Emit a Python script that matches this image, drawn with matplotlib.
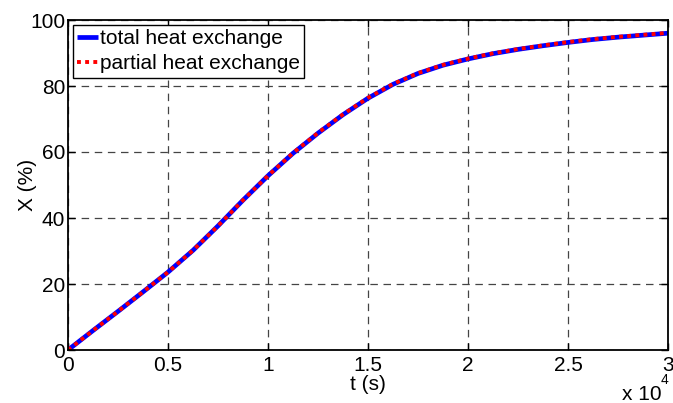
import matplotlib
matplotlib.use("Agg")
import matplotlib.pyplot as plt

t_s = [0, 1250, 2500, 3750, 5000, 6250, 7500, 8750, 10000, 11250, 12500, 13750,
       15000, 16250, 17500, 18750, 20000, 21250, 22500, 23750, 25000, 26250,
       27500, 28750, 30000]
x_total = [0, 5.9, 11.7, 17.6, 23.6, 30.2, 37.6, 45.4, 52.8, 59.6, 65.7, 71.3,
           76.3, 80.5, 83.8, 86.3, 88.2, 89.8, 91.1, 92.2, 93.2, 94.1, 94.8,
           95.4, 96.0]
x_partial = [0, 5.9, 11.7, 17.6, 23.6, 30.2, 37.6, 45.4, 52.8, 59.7, 65.8, 71.4,
             76.4, 80.6, 83.9, 86.4, 88.3, 89.9, 91.2, 92.3, 93.3, 94.2, 94.9,
             95.5, 96.1]

xticks = [0, 5000, 10000, 15000, 20000, 25000, 30000]
xticklabels = ["0", "0.5", "1", "1.5", "2", "2.5", "3"]
yticks = [0, 20, 40, 60, 80, 100]

plt.rcParams['font.family'] = ['Liberation Sans', 'DejaVu Sans']
FS = 15
plt.rcParams['font.size'] = FS

fig = plt.figure(figsize=(6.73, 4.03), dpi=100)
ax = fig.add_axes([68/673, 1 - 350/403, 600/673, 330/403])

ax.plot(t_s, x_total, color='#0000ff', lw=3.4, solid_capstyle='butt',
        solid_joinstyle='round', label='total heat exchange')
ax.plot(t_s, x_partial, color='#ff0000', lw=2.8, linestyle=(0, (1, 1.1)),
        label='partial heat exchange')

ax.set_xlim(0, 30000)
ax.set_ylim(0, 100)
ax.set_xticks(xticks)
ax.set_xticklabels(xticklabels)
ax.set_yticks(yticks)
ax.grid(True, color='#444444', linestyle=(0, (6, 4.5)), linewidth=0.9)
ax.tick_params(axis='x', pad=4)
ax.tick_params(axis='y', pad=2)
ax.tick_params(direction='in', top=True, right=True, length=5, width=1,
               labelsize=FS, colors='black')
for s in ax.spines.values():
    s.set_linewidth(1.3)

ax.set_xlabel('t (s)', fontsize=FS, labelpad=0)
ax.set_ylabel('X (%)', fontsize=FS, labelpad=-5)

leg = ax.legend(loc='upper left', bbox_to_anchor=(0.008, 0.985), fontsize=FS,
                frameon=True, fancybox=False, handlelength=1.0, handletextpad=0.1,
                borderpad=0.2, labelspacing=0.3, borderaxespad=0, framealpha=1)
leg.get_frame().set_edgecolor('black')
leg.get_frame().set_linewidth(1.0)

fig.text(622/673, 1 - 400/403, 'x 10', fontsize=FS, va='baseline', ha='left')
fig.text(661/673, 1 - 384/403, '4', fontsize=10, va='baseline', ha='left')

fig.savefig('out.png', dpi=100)
